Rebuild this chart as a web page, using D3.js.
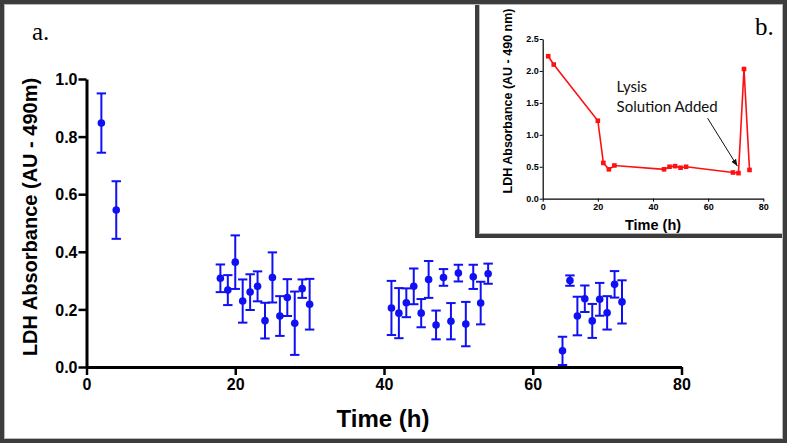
<!DOCTYPE html>
<html>
<head>
<meta charset="utf-8">
<script src="https://cdn.jsdelivr.net/npm/d3@7"></script>
<style>
  body { margin: 0; background: #fff; }
  svg { display: block; }
  .bold { font-family: "Liberation Sans", Arial, sans-serif; font-weight: bold; }
</style>
</head>
<body>
<div class="chart"></div>
<script>
var width = 787,
    height = 443;

// panel a: mean LDH absorbance with error bars
var times = [2, 4,
  18, 19, 20, 21, 22, 23, 24, 25, 26, 27, 28, 29, 30,
  41, 42, 43, 44, 45, 46, 47, 48, 49, 50, 51, 52, 53, 54,
  64, 65, 66, 67, 68, 69, 70, 71, 72];
var means = [0.847, 0.545,
  0.308, 0.267, 0.364, 0.229, 0.260, 0.280, 0.161, 0.311, 0.177, 0.241, 0.152, 0.272, 0.218,
  0.205, 0.187, 0.223, 0.280, 0.187, 0.304, 0.146, 0.311, 0.159, 0.326, 0.149, 0.313, 0.222, 0.324,
  0.056, 0.300, 0.177, 0.237, 0.160, 0.235, 0.188, 0.287, 0.226];
var errs = [0.103, 0.100,
  0.048, 0.052, 0.093, 0.075, 0.062, 0.052, 0.062, 0.087, 0.069, 0.064, 0.110, 0.032, 0.088,
  0.094, 0.087, 0.050, 0.062, 0.049, 0.064, 0.050, 0.029, 0.063, 0.029, 0.077, 0.042, 0.074, 0.035,
  0.049, 0.018, 0.067, 0.046, 0.059, 0.057, 0.058, 0.046, 0.075];
var mainYTicks = [0, 0.2, 0.4, 0.6, 0.8, 1.0];
var mainXTicks = [0, 20, 40, 60, 80];

// panel b: single series
var insetTimes = [2, 4, 20, 22, 24, 26, 44, 46, 48, 50, 52, 69, 71, 73, 75];
var insetValues = [2.23, 2.10, 1.22, 0.56, 0.46, 0.52, 0.46, 0.50, 0.51, 0.485, 0.50, 0.41, 0.40, 2.03, 0.45];
var insetYTicks = [0, 0.5, 1.0, 1.5, 2.0, 2.5];
var insetXTicks = [0, 20, 40, 60, 80];

var blue = '#1010f5',
    red = '#ff1010',
    frame = '#3c3c3c';

var svg = d3.select('.chart')
    .append('svg')
    .attr('width', width)
    .attr('height', height);

svg.append('rect')
    .attr('width', width)
    .attr('height', height)
    .attr('fill', '#fff');

// ---------- main chart ----------
var x = d3.scaleLinear().domain([0, 80]).range([86.5, 681.5]);
var y = d3.scaleLinear().domain([0, 1]).range([367, 79]);

var main = svg.append('g');

var yAxis = main.append('g')
    .attr('transform', `translate(${x(0)},0)`)
    .call(d3.axisLeft(y).tickValues(mainYTicks).tickFormat(d3.format('.1f'))
        .tickSize(8).tickSizeOuter(0).tickPadding(1));

var xAxis = main.append('g')
    .attr('transform', `translate(0,${y(0)})`)
    .call(d3.axisBottom(x).tickValues(mainXTicks)
        .tickSize(8).tickSizeOuter(0).tickPadding(4));

[yAxis, xAxis].forEach(function(ax) {
  ax.select('.domain').attr('stroke', '#000').attr('stroke-width', 3);
  ax.selectAll('.tick line').attr('stroke', '#000').attr('stroke-width', 2.5);
  ax.selectAll('.tick text')
      .attr('class', 'bold')
      .attr('font-size', 16)
      .attr('fill', '#000');
});
yAxis.selectAll('.tick text').attr('dy', '0.36em');

var pts = times.map(function(t, i) { return {t: t, m: means[i], e: errs[i]}; });

var bars = main.selectAll('.err')
    .data(pts)
    .enter()
    .append('g')
    .classed('err', true)
    .attr('stroke', blue)
    .attr('stroke-width', 2);

bars.append('line')
    .attr('x1', d => x(d.t)).attr('x2', d => x(d.t))
    .attr('y1', d => y(d.m - d.e)).attr('y2', d => y(d.m + d.e));
bars.append('line')
    .attr('x1', d => x(d.t) - 4.7).attr('x2', d => x(d.t) + 4.7)
    .attr('y1', d => y(d.m + d.e)).attr('y2', d => y(d.m + d.e));
bars.append('line')
    .attr('x1', d => x(d.t) - 4.7).attr('x2', d => x(d.t) + 4.7)
    .attr('y1', d => y(d.m - d.e)).attr('y2', d => y(d.m - d.e));

main.selectAll('.dot')
    .data(pts)
    .enter()
    .append('circle')
    .classed('dot', true)
    .attr('cx', d => x(d.t))
    .attr('cy', d => y(d.m))
    .attr('r', 3.8)
    .attr('fill', blue);

main.append('text')
    .attr('class', 'bold')
    .attr('font-size', 20)
    .attr('text-anchor', 'middle')
    .attr('transform', 'translate(37,217) rotate(-90)')
    .text('LDH Absorbance (AU - 490m)');

main.append('text')
    .attr('class', 'bold')
    .attr('font-size', 24)
    .attr('text-anchor', 'middle')
    .attr('x', 383)
    .attr('y', 426.5)
    .text('Time (h)');

main.append('text')
    .attr('font-family', '"Liberation Serif", "Times New Roman", serif')
    .attr('font-size', 25)
    .attr('x', 32)
    .attr('y', 40)
    .text('a.');

// ---------- inset ----------
var inset = svg.append('g');

inset.append('rect')
    .attr('x', 477)
    .attr('y', -10)
    .attr('width', 330)
    .attr('height', 246)
    .attr('fill', '#fff')
    .attr('stroke', frame)
    .attr('stroke-width', 4);
inset.append('path')
    .attr('d', 'M479.5,0V233.5H787')
    .attr('fill', 'none')
    .attr('stroke', '#b8b8b8')
    .attr('stroke-width', 1);

var ix = d3.scaleLinear().domain([0, 80]).range([542.7, 763.3]);
var iy = d3.scaleLinear().domain([0, 2.5]).range([198.7, 39]);

var iyAxis = inset.append('g')
    .attr('transform', `translate(${ix(0)},0)`)
    .call(d3.axisLeft(iy).tickValues(insetYTicks).tickFormat(d3.format('.1f'))
        .tickSize(3).tickSizeOuter(0).tickPadding(1));
var ixAxis = inset.append('g')
    .attr('transform', `translate(0,${iy(0)})`)
    .call(d3.axisBottom(ix).tickValues(insetXTicks)
        .tickSize(3).tickSizeOuter(0).tickPadding(2));

[iyAxis, ixAxis].forEach(function(ax) {
  ax.select('.domain').attr('stroke', '#000').attr('stroke-width', 1.2);
  ax.selectAll('.tick line').attr('stroke', '#000').attr('stroke-width', 1);
  ax.selectAll('.tick text')
      .attr('class', 'bold')
      .attr('font-size', 9)
      .attr('fill', '#000');
});

var line = d3.line()
    .x((d, i) => ix(insetTimes[i]))
    .y(d => iy(d));

inset.append('path')
    .datum(insetValues)
    .attr('d', line)
    .attr('fill', 'none')
    .attr('stroke', red)
    .attr('stroke-width', 1.6);

inset.selectAll('.sq')
    .data(insetValues)
    .enter()
    .append('rect')
    .classed('sq', true)
    .attr('x', (d, i) => ix(insetTimes[i]) - 2.3)
    .attr('y', d => iy(d) - 2.3)
    .attr('width', 4.6)
    .attr('height', 4.6)
    .attr('fill', red);

inset.append('text')
    .attr('class', 'bold')
    .attr('font-size', 12.5)
    .attr('text-anchor', 'middle')
    .attr('transform', 'translate(512,101) rotate(-90)')
    .text('LDH Absorbance (AU - 490 nm)');

inset.append('text')
    .attr('class', 'bold')
    .attr('font-size', 14.5)
    .attr('text-anchor', 'middle')
    .attr('x', 653)
    .attr('y', 230)
    .text('Time (h)');

inset.append('text')
    .attr('font-family', '"Liberation Serif", "Times New Roman", serif')
    .attr('font-size', 25)
    .attr('x', 755)
    .attr('y', 35)
    .text('b.');

// annotation
var note = inset.append('g')
    .attr('font-family', 'Lato, "Open Sans", sans-serif')
    .attr('font-size', 15)
    .attr('fill', '#111');
note.append('text').attr('x', ix(26.8)).attr('y', iy(1.67)).text('Lysis');
note.append('text').attr('x', ix(26.8)).attr('y', iy(1.36)).text('Solution Added');

svg.append('defs').append('marker')
    .attr('id', 'head')
    .attr('viewBox', '0 0 10 10')
    .attr('refX', 10).attr('refY', 5)
    .attr('markerWidth', 7).attr('markerHeight', 7)
    .attr('orient', 'auto')
    .append('path')
    .attr('d', 'M0,1L10,5L0,9Z')
    .attr('fill', '#111');

inset.append('line')
    .attr('x1', ix(59.8)).attr('y1', iy(1.26))
    .attr('x2', ix(70.6)).attr('y2', iy(0.51))
    .attr('stroke', '#111')
    .attr('stroke-width', 1)
    .attr('marker-end', 'url(#head)');

// ---------- outer frame ----------
svg.append('rect')
    .attr('x', 2).attr('y', 2)
    .attr('width', width - 4).attr('height', height - 4)
    .attr('fill', 'none')
    .attr('stroke', frame)
    .attr('stroke-width', 4);
svg.append('rect')
    .attr('x', 4.5).attr('y', 4.5)
    .attr('width', width - 9).attr('height', height - 9)
    .attr('fill', 'none')
    .attr('stroke', '#b8b8b8')
    .attr('stroke-width', 1);
</script>
</body>
</html>
